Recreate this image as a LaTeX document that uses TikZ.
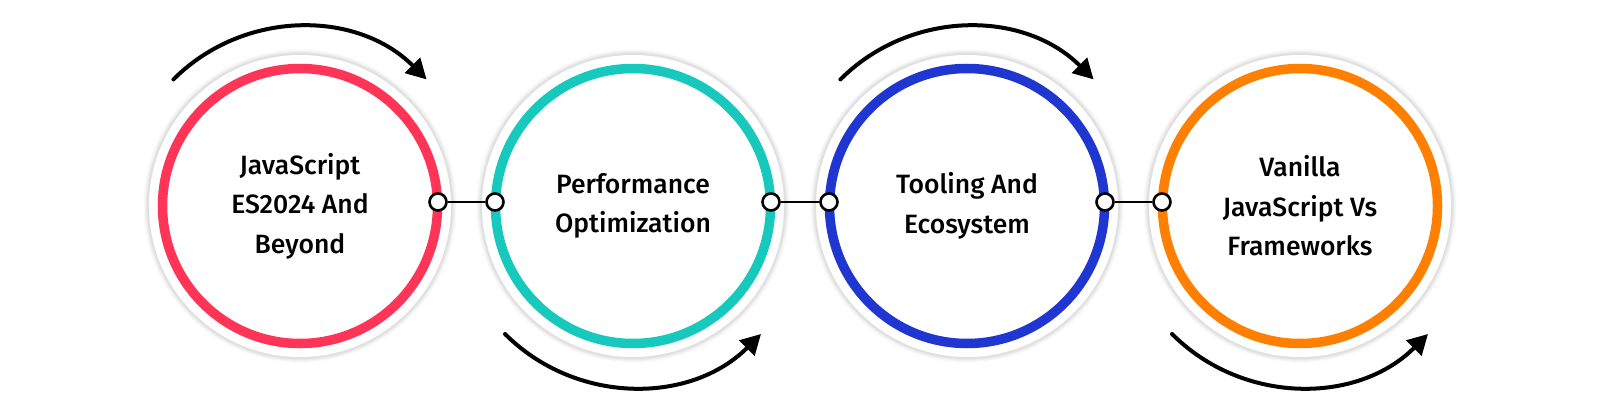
\documentclass[tikz,border=0pt]{standalone}
\usepackage{fontspec}
\setmainfont{Fira Sans}[UprightFont={* Medium}]
\usetikzlibrary{arrows.meta}
\definecolor{cred}{HTML}{FF3557}
\definecolor{cteal}{HTML}{17C9BC}
\definecolor{cblue}{HTML}{1F36D1}
\definecolor{corange}{HTML}{FF7F00}
\tikzset{
  ring/.style={circle, draw=#1, line width=9.5pt, minimum size=275pt, inner sep=0pt,
    align=center, font=\fontsize{26.5}{39.5}\selectfont, text=black},
  dot/.style={circle, draw=black, fill=white, line width=2.6pt, minimum size=17pt, inner sep=0pt},
  conn/.style={draw=black, line width=2.4pt},
  turn/.style={draw=black, line width=4pt, line cap=round, -{Triangle[length=20pt,width=21pt]}},
}
\begin{document}
\begin{tikzpicture}[x=1pt,y=-1pt]
\useasboundingbox (0,0) rectangle (1600,414);
\fill[white] (0,0) rectangle (1600,414);
% soft halo discs
\foreach \cx in {300,633,967,1300}{
  \foreach \r/\op in {157/0.012,156/0.018,155/0.024,154/0.03,153/0.036}{
    \fill[black,opacity=\op] (\cx,206) circle[radius=\r];
  }
  \fill[white] (\cx,206) circle[radius=151];
}
\node[ring=cred]    (c1) at (300,206) {JavaScript\\ES2024 And\\Beyond};
\node[ring=cteal]   (c2) at (633,206) {Performance\\Optimization};
\node[ring=cblue]   (c3) at (967,206) {Tooling And\\Ecosystem};
\node[ring=corange] (c4) at (1300,206) {Vanilla\\JavaScript Vs\\Frameworks};
% connector dots
\node[dot] (d1r) at (438,202) {};
\node[dot] (d2l) at (495,202) {};
\node[dot] (d2r) at (771,202) {};
\node[dot] (d3l) at (829,202) {};
\node[dot] (d3r) at (1105,202) {};
\node[dot] (d4l) at (1162,202) {};
\draw[conn] (d1r) -- (d2l);
\draw[conn] (d2r) -- (d3l);
\draw[conn] (d3r) -- (d4l);
% turning arrows
\draw[turn] (c1.center) ++(225:179) arc[start angle=225, end angle=315, radius=179];
\draw[turn] (c3.center) ++(225:179) arc[start angle=225, end angle=315, radius=179];
\draw[turn] (c2.center) ++(135:181) arc[start angle=135, end angle=45, radius=181];
\draw[turn] (c4.center) ++(135:181) arc[start angle=135, end angle=45, radius=181];
\end{tikzpicture}
\end{document}
